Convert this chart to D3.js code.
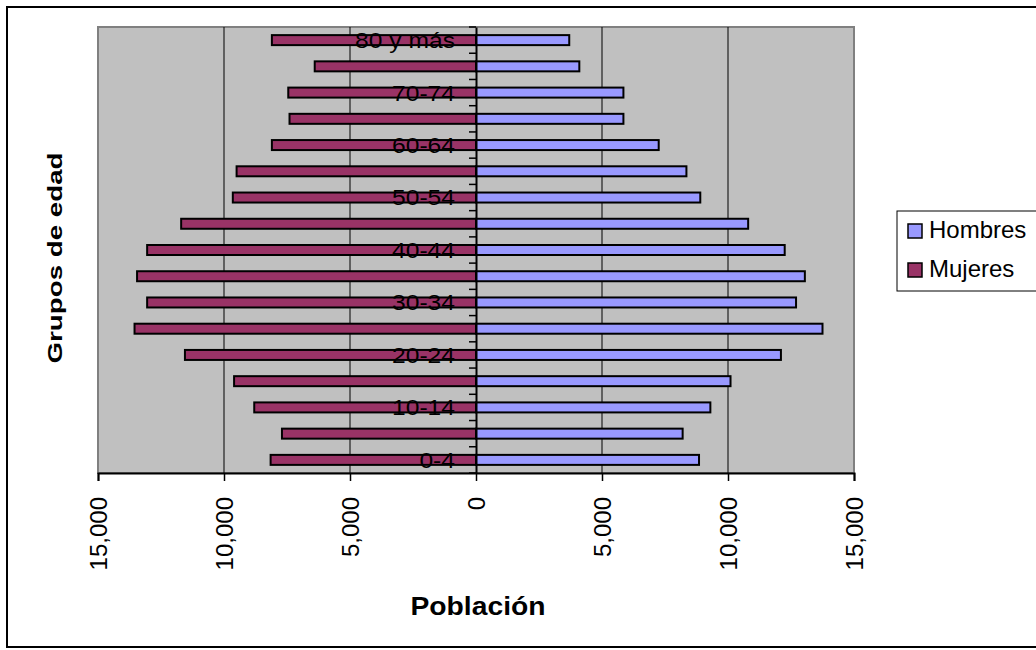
<!DOCTYPE html>
<html>
<head>
<meta charset="utf-8">
<script src="https://cdn.jsdelivr.net/npm/d3@7"></script>
<style>
  body { margin: 0; background: #fff; }
  svg text { font-family: "Liberation Sans", Arial, sans-serif; }
</style>
</head>
<body>
<svg id="chart" width="1036" height="650"></svg>
<script>
// Age groups, bottom to top
const grupos = ["0-4", "5-9", "10-14", "15-19", "20-24", "25-29", "30-34", "35-39",
  "40-44", "45-49", "50-54", "55-59", "60-64", "65-69", "70-74", "75-79", "80 y más"];
// Population by sex for each age group
const hombres = [8850, 8200, 9300, 10100, 12100, 13750, 12700, 13050, 12250, 10800,
  8900, 8350, 7250, 5850, 5850, 4100, 3700];
const mujeres = [8150, 7700, 8800, 9600, 11550, 13550, 13050, 13450, 13050, 11700,
  9650, 9500, 8100, 7400, 7450, 6400, 8100];
const ejeTicks = [-15000, -10000, -5000, 0, 5000, 10000, 15000];
const series = [
  { name: "Hombres", values: hombres, sign: 1, color: "#9999FF" },
  { name: "Mujeres", values: mujeres, sign: -1, color: "#993366" }
];

const svg = d3.select("#chart");
const plot = { left: 98, right: 854, top: 27, bottom: 473 };

const x = d3.scaleLinear().domain([-15000, 15000]).range([plot.left, plot.right]);
const y = d3.scaleBand().domain(grupos).range([plot.bottom, plot.top]);

// Outer frame
svg.append("rect")
  .attr("x", 7).attr("y", 7).attr("width", 1040).attr("height", 640)
  .attr("fill", "none").attr("stroke", "#000").attr("stroke-width", 2);

// Plot background
svg.append("rect")
  .attr("x", plot.left).attr("y", plot.top)
  .attr("width", plot.right - plot.left).attr("height", plot.bottom - plot.top)
  .attr("fill", "#C0C0C0").attr("stroke", "#808080").attr("stroke-width", 2);

// Vertical gridlines
svg.append("g").selectAll("line")
  .data(ejeTicks.filter(d => d !== 0 && Math.abs(d) !== 15000))
  .join("line")
  .attr("x1", d => x(d)).attr("x2", d => x(d))
  .attr("y1", plot.top).attr("y2", plot.bottom)
  .attr("stroke", "#000").attr("stroke-width", 1);

// Bars
const barH = 10;
series.forEach(s => {
  svg.append("g").selectAll("rect")
    .data(s.values.map((v, i) => ({ g: grupos[i], v: v * s.sign })))
    .join("rect")
    .attr("x", d => Math.min(x(0), x(d.v)))
    .attr("width", d => Math.abs(x(d.v) - x(0)))
    .attr("y", d => y(d.g) + y.bandwidth() / 2 - barH / 2)
    .attr("height", barH)
    .attr("fill", s.color)
    .attr("stroke", "#000").attr("stroke-width", 2);
});

// Bottom value axis
const xAxis = d3.axisBottom(x).tickValues(ejeTicks).tickSize(8)
  .tickFormat(d => d3.format(",")(Math.abs(d)));
const gx = svg.append("g").attr("transform", `translate(0,${plot.bottom})`).call(xAxis);
gx.select(".domain").attr("stroke", "#000").attr("stroke-width", 2);
gx.selectAll(".tick line").attr("stroke", "#000").attr("stroke-width", 1.5);
gx.selectAll(".tick text")
  .attr("font-size", 24).attr("fill", "#000")
  .attr("text-anchor", "end")
  .attr("dy", "0.35em")
  .attr("transform", "translate(0,24) rotate(-90)")
  .attr("x", 0).attr("y", 0);

// Category axis along zero
const yAxis = d3.axisLeft(y).tickSize(0).tickFormat("");
const gy = svg.append("g").attr("transform", `translate(${x(0)},0)`).call(yAxis);
gy.select(".domain").attr("stroke", "#000").attr("stroke-width", 2);
// tick marks between categories
svg.append("g").selectAll("line")
  .data(grupos.map(g => y(g)).concat([plot.bottom]))
  .join("line")
  .attr("x1", x(0) - 7).attr("x2", x(0))
  .attr("y1", d => d).attr("y2", d => d)
  .attr("stroke", "#000").attr("stroke-width", 1.5);

// Category labels (every other group)
svg.append("g").selectAll("text")
  .data(grupos.filter((g, i) => i % 2 === 0))
  .join("text")
  .attr("transform", d => `translate(${x(0) - 21},${y(d) + y.bandwidth() / 2}) scale(1.12,1)`)
  .attr("text-anchor", "end")
  .attr("dy", "0.36em")
  .attr("font-size", 22)
  .attr("fill", "#000")
  .text(d => d);

// Axis titles
svg.append("text")
  .attr("x", 478).attr("y", 615)
  .attr("text-anchor", "middle")
  .attr("font-size", 25).attr("font-weight", "bold")
  .attr("textLength", 135).attr("lengthAdjust", "spacingAndGlyphs")
  .text("Población");

svg.append("text")
  .attr("transform", "translate(62,258) rotate(-90)")
  .attr("text-anchor", "middle")
  .attr("font-size", 21).attr("font-weight", "bold")
  .attr("textLength", 211).attr("lengthAdjust", "spacingAndGlyphs")
  .text("Grupos de edad");

// Legend
const legend = svg.append("g");
legend.append("rect")
  .attr("x", 897).attr("y", 211).attr("width", 150).attr("height", 80)
  .attr("fill", "#fff").attr("stroke", "#000").attr("stroke-width", 1);
const items = legend.selectAll("g.item")
  .data(series)
  .join("g").attr("class", "item")
  .attr("transform", (d, i) => `translate(908,${224 + i * 39})`);
items.append("rect")
  .attr("width", 14).attr("height", 14)
  .attr("fill", d => d.color).attr("stroke", "#000").attr("stroke-width", 1.5);
items.append("text")
  .attr("x", 21).attr("y", 14)
  .attr("font-size", 24).attr("fill", "#000")
  .text(d => d.name);
</script>
</body>
</html>
